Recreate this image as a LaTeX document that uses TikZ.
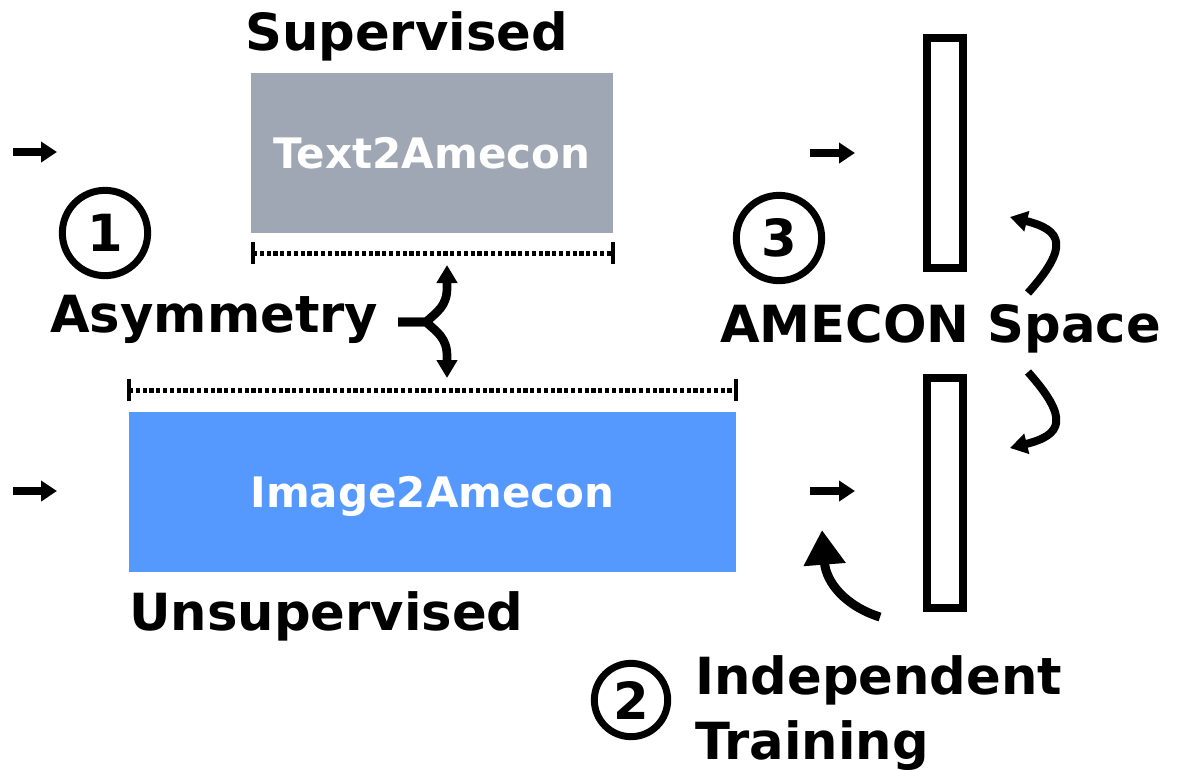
\documentclass[tikz,border=0pt]{standalone}
\usepackage{fontspec}
\setmainfont{DejaVu Sans}
\usetikzlibrary{arrows.meta}
\definecolor{graybox}{RGB}{158,167,179}
\definecolor{bluebox}{RGB}{85,153,255}
\begin{document}
\begin{tikzpicture}[x=0.75pt,y=-0.75pt,
  lbl/.style={font=\fontsize{38.4}{46}\selectfont\bfseries, inner sep=0pt, anchor=base west},
  model/.style={font=\fontsize{31.5}{38}\selectfont\bfseries, text=white, inner sep=0pt, text depth=0pt},
  numcirc/.style={circle, draw, line width=5.25pt, minimum size=64pt, inner sep=0pt, font=\fontsize{38.4}{46}\selectfont\bfseries},
  spacebar/.style={draw, line width=6pt, minimum width=27pt, minimum height=172.5pt, inner sep=0pt},
  smallarr/.style={line width=6pt, -{Triangle[length=12pt,width=15pt]}},
  bracearr/.style={line width=6.5pt, -{Triangle[length=13.5pt,width=15pt]}},
  curvearr/.style={line width=6pt, -{Triangle[length=13pt,width=15pt]}},
  bigarr/.style={line width=6.75pt, -{Triangle[length=26pt,width=30pt]}},
  span/.style={line width=3.75pt, dash pattern=on 3.2pt off 1.9pt},
  tick/.style={line width=3pt}
]
\useasboundingbox (0,0) rectangle (1182,769);

% model boxes
\node[model, fill=graybox, minimum width=271.5pt, minimum height=120pt] (tbox) at (432,153) {Text2Amecon};
\node[model, fill=bluebox, minimum width=455.25pt, minimum height=120pt] (ibox) at (432.5,492) {Image2Amecon};

% labels
\node[lbl] (sup) at (245,50) {Supervised};
\node[lbl] (unsup) at (129,630) {Unsupervised};
\node[lbl] (asym) at (50,332) {Asymmetry};
\node[lbl] (amecon) at (720,342) {AMECON Space};
\node[lbl] (indep) at (695,694) {Independent};
\node[lbl] (train) at (695,759) {Training};

% numbered circles
\node[numcirc] (c1) at (105,233) {1};
\node[numcirc] (c3) at (779,238) {3};
\node[numcirc, minimum size=55pt] (c2) at (631,700) {2};

% AMECON space bars
\node[spacebar] (barU) at (945,153) {};
\node[spacebar] (barL) at (945,492.5) {};

% span lines
\coordinate (sTl) at (253,253); \coordinate (sTr) at (613,253);
\coordinate (sBl) at (129,390); \coordinate (sBr) at (736,390);
\draw[span] (sTl) -- (sTr);
\draw[span] (sBl) -- (sBr);
\draw[tick] ([yshift=-8.25pt]sTl) -- ([yshift=8.25pt]sTl);
\draw[tick] ([yshift=-8.25pt]sTr) -- ([yshift=8.25pt]sTr);
\draw[tick] ([yshift=-8.25pt]sBl) -- ([yshift=8.25pt]sBl);
\draw[tick] ([yshift=-8.25pt]sBr) -- ([yshift=8.25pt]sBr);

% small input/output arrows
\coordinate (a1s) at (13,152); \coordinate (a1e) at (57,152);
\coordinate (a2s) at (13,491); \coordinate (a2e) at (57,491);
\coordinate (a3s) at (810,153); \coordinate (a3e) at (855,153);
\coordinate (a4s) at (810,491); \coordinate (a4e) at (855,491);
\draw[smallarr] (a1s) -- (a1e);
\draw[smallarr] (a2s) -- (a2e);
\draw[smallarr] (a3s) -- (a3e);
\draw[smallarr] (a4s) -- (a4e);

% asymmetry brace arrow
\coordinate (br0) at (398,322);
\coordinate (brUp) at (447,265);
\coordinate (brDn) at (447,378);
\draw[bracearr] (br0) -- (426,322) .. controls (437,312) and (447,306) .. (447,288) -- (brUp);
\draw[bracearr] (br0) -- (426,322) .. controls (437,332) and (447,338) .. (447,356) -- (brDn);

% alignment curved arrows
\coordinate (cuS) at (1028,293); \coordinate (cuE) at (1010,217);
\coordinate (clS) at (1028,372); \coordinate (clE) at (1010,448);
\draw[curvearr] (cuS) .. controls (1070,246) and (1062,230) .. (cuE);
\draw[curvearr] (clS) .. controls (1070,419) and (1062,435) .. (clE);

% independent training arrow
\coordinate (itS) at (880,617); \coordinate (itE) at (822,530);
\draw[bigarr] (itS) .. controls (845,606) and (826,582) .. (itE);
\end{tikzpicture}
\end{document}
